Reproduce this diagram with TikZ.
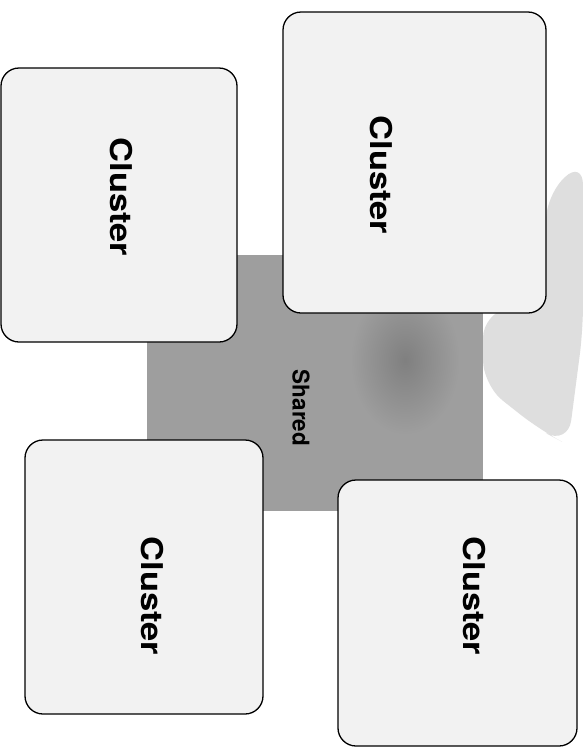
\documentclass[tikz,border=0pt]{standalone}
\usepackage{fontspec}
\setmainfont{TeX Gyre Heros}
\definecolor{boxfill}{gray}{0.95}
\definecolor{sharedfill}{gray}{0.62}
\definecolor{blobfill}{gray}{0.5}
\definecolor{hazefill}{gray}{0.87}
\begin{document}
\begin{tikzpicture}[x=1pt,y=-1pt,
  clusterbox/.style={draw=black,line width=1.3pt,rounded corners=18pt,fill=boxfill},
  clusterlabel/.style={rotate=-90,inner sep=0pt,font=\fontsize{30}{36}\selectfont\bfseries},
  sharedlabel/.style={rotate=-90,inner sep=0pt,font=\fontsize{22}{26}\selectfont\bfseries}]
\useasboundingbox (0,0) rectangle (583,748);
\fill[white] (0,0) rectangle (583,748);
% faint haze to the right
\fill[hazefill,rounded corners=25pt] (546,195) -- (583,160) -- (583,330) -- (568,445) -- (540,430) -- (483,385) -- (483,313) -- (546,300) -- cycle;
% shared area
\fill[sharedfill] (147,255) rectangle (483,511);
\begin{scope}
\clip (147,255) rectangle (483,511);
\shade[inner color=blobfill,outer color=sharedfill] (405,360) ellipse (55 and 75);
\end{scope}
\node[sharedlabel] (shared) at (301,408) {\scalebox{1.02}[1.05]{Shared}};
% clusters
\draw[clusterbox] (1,68) rectangle (237,342);
\node[clusterlabel] (c1) at (121,197) {\scalebox{1.15}[1]{Cluster}};
\draw[clusterbox] (283,12) rectangle (546,313);
\node[clusterlabel] (c2) at (381,175) {\scalebox{1.15}[1]{Cluster}};
\draw[clusterbox] (25,440) rectangle (263,714);
\node[clusterlabel] (c3) at (152,596) {\scalebox{1.15}[1]{Cluster}};
\draw[clusterbox] (338,480) rectangle (577,746);
\node[clusterlabel] (c4) at (474,596) {\scalebox{1.15}[1]{Cluster}};
\end{tikzpicture}
\end{document}
